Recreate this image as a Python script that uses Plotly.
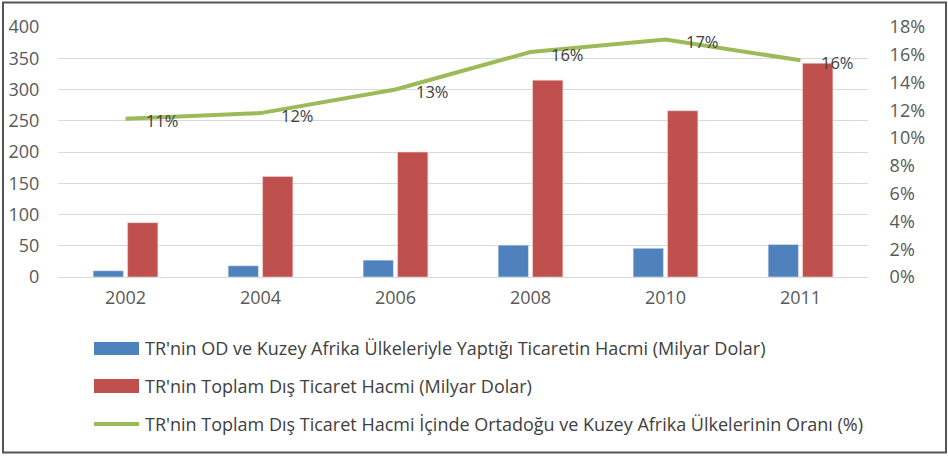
import plotly.graph_objects as go

years = ["2002", "2004", "2006", "2008", "2010", "2011"]
od_volume = [10, 18, 27, 51, 46, 52]
total_volume = [87, 161, 200, 315, 266, 342]
share = [0.114, 0.118, 0.135, 0.162, 0.171, 0.156]
share_labels = ["11%", "12%", "13%", "16%", "17%", "16%"]

names = [
    "TR'nin OD ve Kuzey Afrika Ülkeleriyle Yaptığı Ticaretin Hacmi (Milyar Dolar)",
    "TR'nin Toplam Dış Ticaret Hacmi (Milyar Dolar)",
    "TR'nin Toplam Dış Ticaret Hacmi İçinde Ortadoğu ve Kuzey Afrika Ülkelerinin Oranı (%)",
]
colors = ["#4f81bd", "#c0504d", "#9bbb59"]

W, H = 948, 456
L, R, T, B = 58, 80, 27, 179
PW, PH = W - L - R, H - T - B

def px(x):
    return (x - L) / PW

def py(y):
    return (H - B - y) / PH

FONT = "Open Sans"

fig = go.Figure()
fig.add_trace(go.Bar(x=years, y=od_volume, name=names[0],
                     marker=dict(color=colors[0], line=dict(color="#dfe8f3", width=0.6)), showlegend=False))
fig.add_trace(go.Bar(x=years, y=total_volume, name=names[1],
                     marker=dict(color=colors[1], line=dict(color="#f0d6d5", width=0.6)), showlegend=False))
fig.add_trace(go.Scatter(x=years, y=share, name=names[2], mode="lines", yaxis="y2",
                         line=dict(color=colors[2], width=4), showlegend=False))

annotations = []
for i, (v, t) in enumerate(zip(share, share_labels)):
    annotations.append(dict(x=i, y=v, xref="x", yref="y2", text=t, showarrow=False,
                            xanchor="left", yanchor="middle", xshift=18, yshift=-2,
                            font=dict(family=FONT, size=16.5, color="#404040")))

# manual legend
shapes = [
    dict(type="rect", xref="paper", yref="paper", x0=px(3), x1=px(946), y0=py(452.5), y1=py(2.5),
         line=dict(color="#555555", width=2), fillcolor="rgba(0,0,0,0)", layer="above"),
    dict(type="rect", xref="paper", yref="paper", x0=px(94), x1=px(139), y0=py(355), y1=py(342),
         line=dict(width=0), fillcolor=colors[0]),
    dict(type="rect", xref="paper", yref="paper", x0=px(94), x1=px(139), y0=py(393), y1=py(379),
         line=dict(width=0), fillcolor=colors[1]),
    dict(type="line", xref="paper", yref="paper", x0=px(94), x1=px(139), y0=py(424), y1=py(424),
         line=dict(color=colors[2], width=4)),
]
for name, yy in zip(names, [348, 386, 424]):
    annotations.append(dict(x=px(143), y=py(yy), xref="paper", yref="paper", text=name, showarrow=False,
                            xanchor="left", yanchor="middle",
                            font=dict(family=FONT, size=18, color="#404040")))

fig.update_layout(
    width=W, height=H,
    margin=dict(l=L, r=R, t=T, b=B, autoexpand=False),
    paper_bgcolor="white", plot_bgcolor="white",
    barmode="group", bargap=0.49, bargroupgap=0.12,
    font=dict(family=FONT, size=18, color="#595959"),
    xaxis=dict(type="category", range=[-0.5, 5.5], showgrid=False, showline=False, ticks="",
               tickfont=dict(family=FONT, size=18, color="#595959"), ticklabelstandoff=8),
    yaxis=dict(range=[0, 400], dtick=50, showgrid=True, gridcolor="#d9d9d9", gridwidth=1,
               zeroline=True, zerolinecolor="#d9d9d9", zerolinewidth=1, showline=False,
               ticks="outside", ticklen=14, tickcolor="rgba(0,0,0,0)",
               tickfont=dict(family=FONT, size=18, color="#595959")),
    yaxis2=dict(range=[0, 0.18], dtick=0.02, tickformat=".0%", overlaying="y", side="right",
                showgrid=False, zeroline=False, showline=False,
                ticks="outside", ticklen=17, tickcolor="rgba(0,0,0,0)",
                tickfont=dict(family=FONT, size=18, color="#595959")),
    shapes=shapes,
    annotations=annotations,
)

fig.write_html("out.html", config={"displayModeBar": False},
               post_script="document.body.style.margin='0';document.body.style.padding='0';document.body.style.overflow='hidden';")
